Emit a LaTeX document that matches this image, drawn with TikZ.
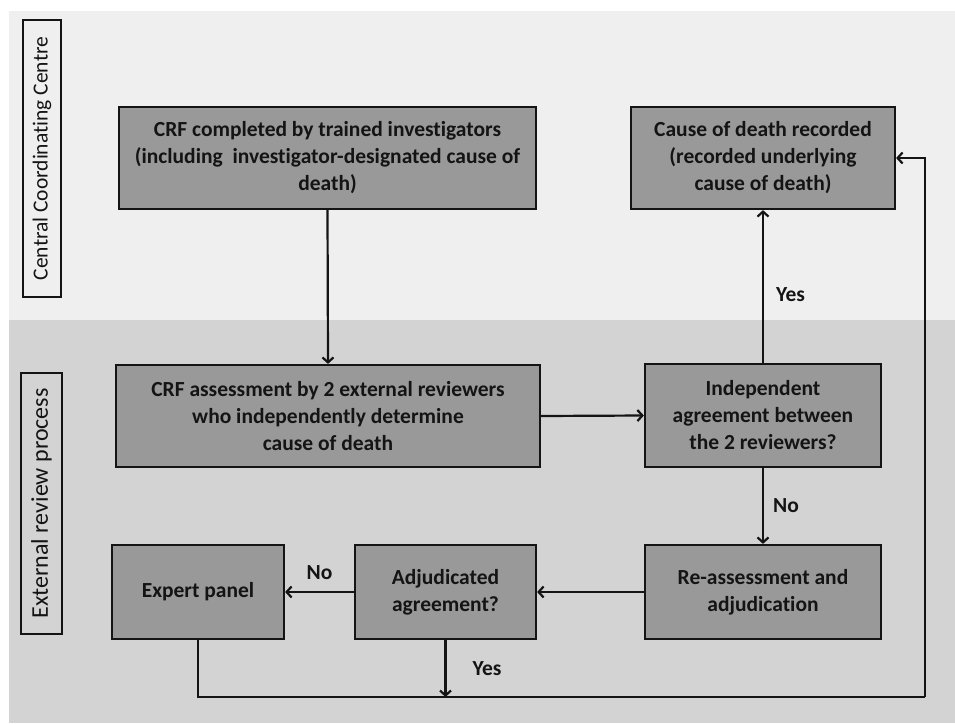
\documentclass[tikz,border=0pt]{standalone}
\usepackage{fontspec}
\setmainfont{Carlito}[Ligatures=NoCommon]
\usetikzlibrary{arrows.meta}
\definecolor{bgtop}{HTML}{EFEFEF}
\definecolor{bgbot}{HTML}{D3D3D3}
\definecolor{boxfill}{HTML}{999999}
\definecolor{ink}{HTML}{141414}
\begin{document}
\begin{tikzpicture}[x=1pt,y=-1pt,
  proc/.style={draw=ink, line width=2.2pt, fill=boxfill, text=ink,
    font=\fontsize{21.5}{27}\selectfont\bfseries, align=center, inner sep=0pt},
  conn/.style={draw=ink, line width=2.2pt, -{Straight Barb[length=5pt,width=11pt,line width=2.2pt]}},
  plain/.style={draw=ink, line width=2.2pt},
  lbl/.style={text=ink, font=\fontsize{21.5}{26}\selectfont\bfseries, inner sep=0pt},
  side/.style={draw=ink, line width=2.2pt, text=ink,
    rotate=90, inner sep=0pt}]
\useasboundingbox (0,0) rectangle (955,723);
\fill[white] (0,0) rectangle (955,723);
\fill[bgtop] (9,11) rectangle (955,320);
\fill[bgbot] (9,320) rectangle (955,723);

\node[side, font=\fontsize{21.5}{25}\selectfont, minimum width=277pt, minimum height=38pt] (sideA) at (42,158.5) {Central Coordinating Centre};
\node[side, font=\fontsize{24}{28}\selectfont, minimum width=261pt, minimum height=41pt] (sideB) at (41.5,503.5) {External review process};

\node[proc, minimum width=417pt, minimum height=102pt] (crf) at (327.5,158)
  {CRF completed by trained investigators\\(including\ \ investigator-designated cause of\\death)};
\node[proc, minimum width=264pt, minimum height=102pt] (cause) at (763,158)
  {Cause of death recorded\\(recorded underlying\\cause of death)};
\node[proc, minimum width=424pt, minimum height=102pt] (assess) at (328,416)
  {CRF assessment by 2 external reviewers\\who independently determine\\cause of death};
\node[proc, minimum width=236pt, minimum height=103pt] (indep) at (763,415.5)
  {Independent\\agreement between\\the 2 reviewers?};
\node[proc, minimum width=236pt, minimum height=94pt] (reass) at (763,592)
  {Re-assessment and\\adjudication};
\node[proc, minimum width=181pt, minimum height=94pt] (adj) at (445.5,592)
  {Adjudicated\\agreement?};
\node[proc, minimum width=172pt, minimum height=94pt] (expert) at (198,592)
  {Expert panel};

\coordinate (corner) at (925,697);
\coordinate (join) at (adj.south |- corner);

\draw[conn] (crf.south) -- (assess.north);
\draw[conn] (assess.east) -- (indep.west);
\draw[conn] (indep.north) -- node[lbl, right=12pt, pos=0.45] {Yes} (cause.south);
\draw[conn] (indep.south) -- node[lbl, right=9pt] {No} (reass.north);
\draw[conn] (reass.west) -- (adj.east);
\draw[conn] (adj.west) -- node[lbl, above=11pt] {No} (expert.east);
\draw[conn] (adj.south) -- node[lbl, right=26pt] {Yes} (join);
\draw[plain] (expert.south) |- (corner);
\draw[conn] (corner) |- (cause.east);
\end{tikzpicture}
\end{document}
